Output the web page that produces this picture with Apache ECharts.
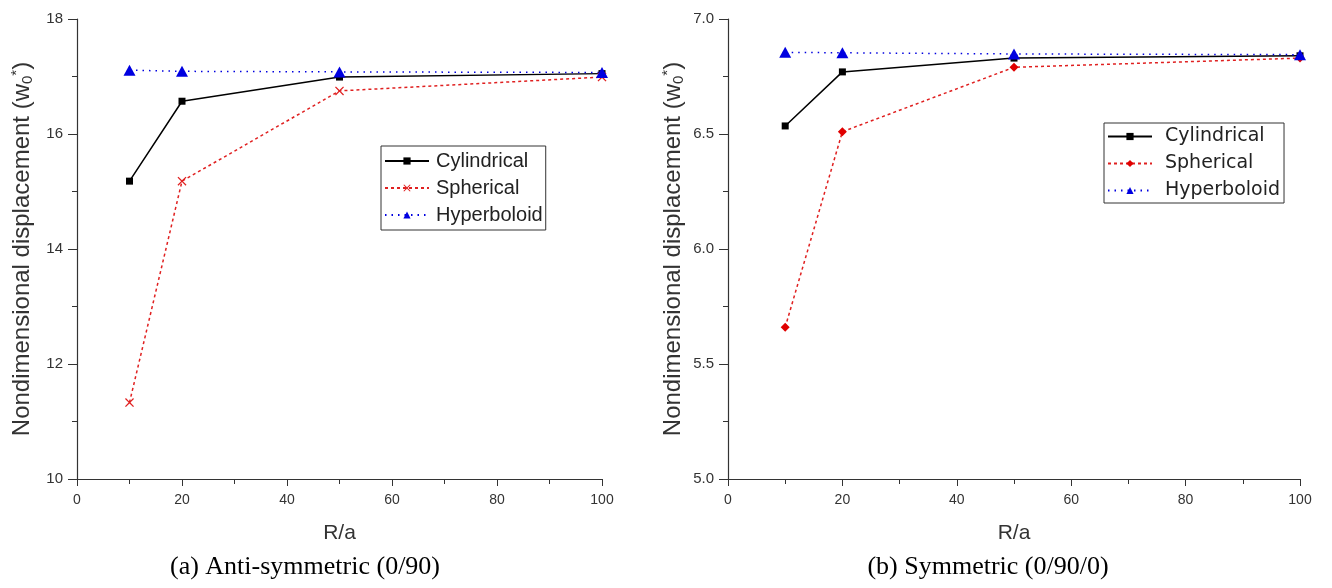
<!DOCTYPE html>
<html>
<head>
<meta charset="utf-8">
<script src="https://cdn.jsdelivr.net/npm/echarts@6/dist/echarts.min.js"></script>
<style>
  html, body { margin: 0; padding: 0; background: #fff; }
  #chart { width: 1332px; height: 588px; }
</style>
</head>
<body>
<div id="chart"></div>
<script>
// R/a values shared by both panels
var ratios = [10, 20, 50, 100]

// (a) anti-symmetric (0/90)
var antiCylindrical = [15.18, 16.57, 16.99, 17.05]
var antiSpherical = [11.33, 15.18, 16.75, 16.99]
var antiHyperboloid = [17.11, 17.09, 17.08, 17.07]

// (b) symmetric (0/90/0)
var symCylindrical = [6.535, 6.77, 6.83, 6.84]
var symSpherical = [5.66, 6.51, 6.79, 6.83]
var symHyperboloid = [6.855, 6.853, 6.848, 6.845]

var captions = ['(a) Anti-symmetric (0/90)', '(b) Symmetric (0/90/0)']

var font = 'Liberation Sans, Arial, sans-serif'
var serif = 'Liberation Serif, Times New Roman, serif'
var axisColor = '#333'
var crossPath = 'path://M0,1L1,0L5,4L9,0L10,1L6,5L10,9L9,10L5,6L1,10L0,9L4,5Z'

function pairs(ys) {
  return ratios.map(function (x, i) { return [x, ys[i]] })
}

function xAxis(gridIndex) {
  return {
    type: 'value',
    gridIndex: gridIndex,
    min: 0,
    max: 100,
    interval: 20,
    name: 'R/a',
    nameLocation: 'middle',
    nameGap: 44,
    nameTextStyle: { fontFamily: font, fontSize: 21, color: '#333' },
    axisLine: { lineStyle: { color: axisColor, width: 1.2 } },
    axisTick: { length: 7, lineStyle: { color: axisColor } },
    minorTick: { show: true, splitNumber: 2, length: 5, lineStyle: { color: axisColor } },
    axisLabel: { fontFamily: font, fontSize: 14, color: '#333', margin: 14 },
    splitLine: { show: false }
  }
}

function yAxis(gridIndex, min, max, step, digits) {
  return {
    type: 'value',
    gridIndex: gridIndex,
    min: min,
    max: max,
    interval: step,
    name: 'Nondimensional displacement (w{sub|0}{sup|*})',
    nameLocation: 'middle',
    nameGap: 42,
    nameTextStyle: {
      fontFamily: font, fontSize: 24, color: '#333',
      rich: {
        sub: { fontFamily: font, fontSize: 15, color: '#333', padding: [11, 0, 0, 0] },
        sup: { fontFamily: font, fontSize: 15, color: '#333', padding: [0, 0, 11, 0] }
      }
    },
    axisLine: { show: true, lineStyle: { color: axisColor, width: 1.2 } },
    axisTick: { show: true, length: 9, lineStyle: { color: axisColor } },
    minorTick: { show: true, splitNumber: 2, length: 5, lineStyle: { color: axisColor } },
    axisLabel: {
      fontFamily: font, fontSize: 15, color: '#333', margin: 14,
      formatter: function (v) { return v.toFixed(digits) }
    },
    splitLine: { show: false }
  }
}

function lineSeries(name, idx, data, kind) {
  var s = {
    name: name,
    type: 'line',
    xAxisIndex: idx,
    yAxisIndex: idx,
    data: pairs(data),
    animation: false,
    clip: false
  }
  if (kind === 'cyl') {
    s.symbol = 'rect'
    s.symbolSize = 7
    s.itemStyle = { color: '#000' }
    s.lineStyle = { color: '#000', width: 1.5, type: 'solid' }
  } else if (kind === 'cross') {
    s.symbol = crossPath
    s.symbolSize = 9
    s.itemStyle = { color: '#e02020' }
    s.lineStyle = { color: '#e02020', width: 1.5, type: [3, 3] }
  } else if (kind === 'diamond') {
    s.symbol = 'diamond'
    s.symbolSize = 9
    s.itemStyle = { color: '#e00000' }
    s.lineStyle = { color: '#e02020', width: 1.5, type: [3, 3] }
  } else {
    s.symbol = 'triangle'
    s.symbolSize = [12, 11]
    s.itemStyle = { color: '#0000e0' }
    s.lineStyle = { color: '#0000e0', width: 1.5, type: [1.5, 5] }
  }
  return s
}

function legend(left, top, names, family, size, textGap, gap, pad) {
  return {
    orient: 'vertical',
    left: left,
    top: top,
    data: names,
    itemWidth: 44,
    itemHeight: 9,
    itemGap: gap,
    padding: pad,
    borderColor: '#333',
    borderWidth: 1,
    borderRadius: 0,
    selectedMode: false,
    textStyle: { fontFamily: family, fontSize: size, color: '#222', padding: [0, 0, 0, textGap] },
    formatter: function (name) { return name.replace(' (b)', '') }
  }
}

var chart = echarts.init(document.getElementById('chart'))
chart.setOption({
  backgroundColor: '#fff',
  grid: [
    { left: 77, right: 730, top: 19, bottom: 109 },
    { left: 728, right: 32, top: 19, bottom: 109 }
  ],
  xAxis: [xAxis(0), xAxis(1)],
  yAxis: [yAxis(0, 10, 18, 2, 0), yAxis(1, 5.0, 7.0, 0.5, 1)],
  legend: [
    legend(381, 146, ['Cylindrical', 'Spherical', 'Hyperboloid'], font, 20, 2, 7, [5, 3, 5, 3]),
    legend(1104, 123, ['Cylindrical (b)', 'Spherical (b)', 'Hyperboloid (b)'], 'DejaVu Sans, sans-serif', 19, 8, 8, [4, 4, 3, 3])
  ],
  graphic: [
    {
      type: 'text', x: 305, y: 567,
      style: { text: captions[0], fontFamily: serif, fontSize: 26, fill: '#000', textAlign: 'center', textVerticalAlign: 'middle' }
    },
    {
      type: 'text', x: 988, y: 567,
      style: { text: captions[1], fontFamily: serif, fontSize: 26, fill: '#000', textAlign: 'center', textVerticalAlign: 'middle' }
    }
  ],
  series: [
    lineSeries('Cylindrical', 0, antiCylindrical, 'cyl'),
    lineSeries('Spherical', 0, antiSpherical, 'cross'),
    lineSeries('Hyperboloid', 0, antiHyperboloid, 'tri'),
    lineSeries('Cylindrical (b)', 1, symCylindrical, 'cyl'),
    lineSeries('Spherical (b)', 1, symSpherical, 'diamond'),
    lineSeries('Hyperboloid (b)', 1, symHyperboloid, 'tri')
  ]
})
</script>
</body>
</html>
